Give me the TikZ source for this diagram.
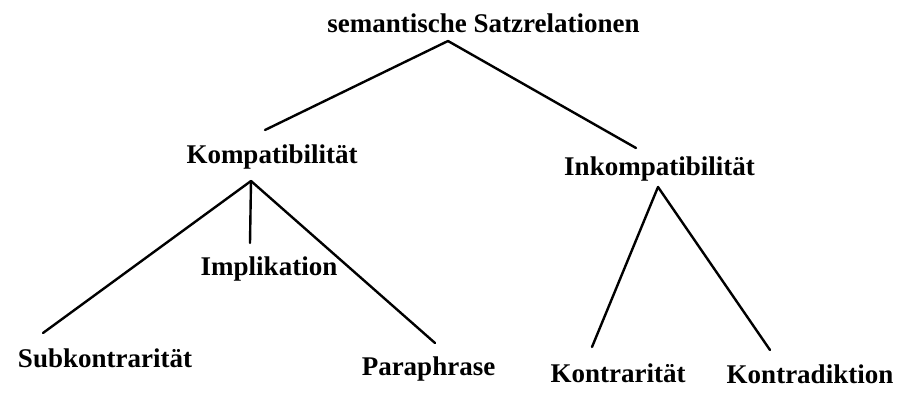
\documentclass[tikz,border=0pt]{standalone}
\usepackage{fontspec}
\setmainfont{Liberation Serif}
\usetikzlibrary{calc}
\begin{document}
\begin{tikzpicture}[x=1pt,y=-1pt,
  lbl/.style={anchor=base,inner sep=0pt,font=\fontsize{27}{30}\selectfont\bfseries},
  edge/.style={line width=2.4pt,line cap=round,line join=round}]
\useasboundingbox (0,0) rectangle (907,393);
\node[lbl] (root) at (483.5,33) {semantische Satzrelationen};
\node[lbl] (komp) at (272,163) {Kompatibilität};
\node[lbl] (inkomp) at (659.5,175) {Inkompatibilität};
\node[lbl] (impl) at (269,275) {Implikation};
\node[lbl] (subk) at (105,367) {Subkontrarität};
\node[lbl] (para) at (428.5,375) {Paraphrase};
\node[lbl] (kontr) at (618,382) {Kontrarität};
\node[lbl] (kontra) at (810,383) {Kontradiktion};
\draw[edge] ($(root.base)+(-35.5,8)$) -- ($(komp.base)+(-7,-33)$);
\draw[edge] ($(root.base)+(-35.5,8)$) -- ($(inkomp.base)+(-23.5,-27)$);
\draw[edge] ($(komp.base)+(-21,18)$) -- ($(subk.base)+(-62,-34)$);
\draw[edge] ($(komp.base)+(-21,18)$) -- ($(impl.base)+(-19,-32)$);
\draw[edge] ($(komp.base)+(-21,18)$) -- ($(para.base)+(6.5,-32)$);
\draw[edge] ($(inkomp.base)+(-1.5,12)$) -- ($(kontr.base)+(-26,-35)$);
\draw[edge] ($(inkomp.base)+(-1.5,12)$) -- ($(kontra.base)+(-40,-33)$);
\end{tikzpicture}
\end{document}
